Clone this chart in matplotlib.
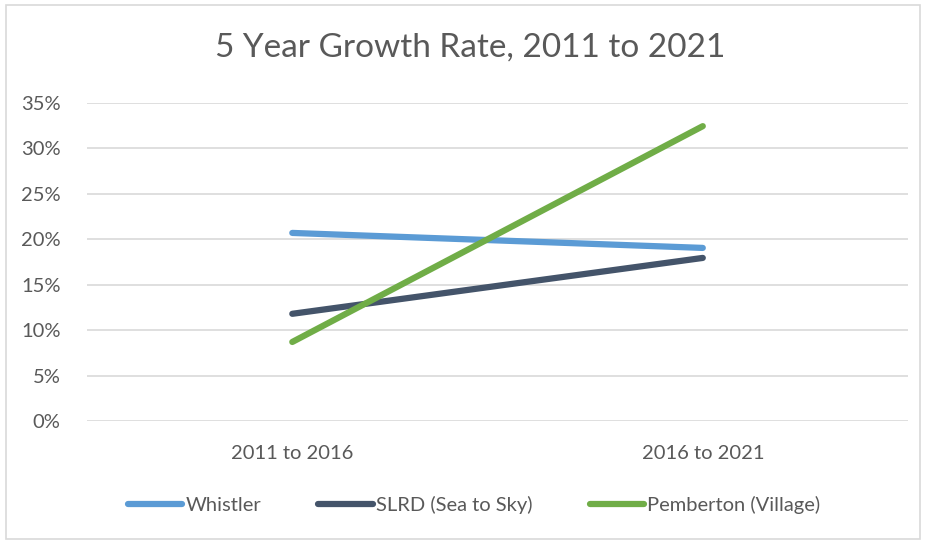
import matplotlib.pyplot as plt
from matplotlib.patches import Rectangle
from matplotlib.ticker import FuncFormatter

periods = ['2011 to 2016', '2016 to 2021']
whistler = [20.7, 19.05]
slrd = [11.8, 17.95]
pemberton = [8.7, 32.45]

series = [
    ('Whistler', whistler, '#5B9BD5'),
    ('SLRD (Sea to Sky)', slrd, '#44546A'),
    ('Pemberton (Village)', pemberton, '#70AD47'),
]

plt.rcParams['font.family'] = ['Lato', 'DejaVu Sans']
text_color = '#595959'

fig = plt.figure(figsize=(9.26, 5.42), dpi=100)
ax = fig.add_axes([0.094, 0.2232, 0.8866, 0.5868])

x = list(range(len(periods)))
for name, values, color in series:
    ax.plot(x, values, color=color, linewidth=4.5, solid_capstyle='round', label=name)

ax.set_xlim(-0.5, 1.5)
ax.set_ylim(0, 35)
ax.set_yticks(range(0, 36, 5))
ax.yaxis.set_major_formatter(FuncFormatter(lambda v, p: f'{int(v)}%'))
ax.set_xticks(x)
ax.set_xticklabels(periods)
ax.grid(axis='y', color='#D9D9D9', linewidth=1.2)
ax.set_axisbelow(True)
for s in ax.spines.values():
    s.set_visible(False)
ax.tick_params(axis='both', length=0, labelsize=14.5, colors=text_color)
ax.tick_params(axis='y', pad=19)
ax.tick_params(axis='x', pad=17)

fig.text(0.508, 0.912, '5 Year Growth Rate, 2011 to 2021', ha='center', va='center',
         fontsize=24, color=text_color)

fig.legend(loc='center', bbox_to_anchor=(0.512, 0.068), ncol=3, frameon=False,
           fontsize=14.5, handlelength=2.7, handletextpad=0.15, columnspacing=2.85,
           labelcolor=text_color)

fig.patches.append(Rectangle((0.006, 0.006), 0.988, 0.985, transform=fig.transFigure,
                             fill=False, edgecolor='#D9D9D9', linewidth=1.2))

fig.savefig('out.png', dpi=100)
